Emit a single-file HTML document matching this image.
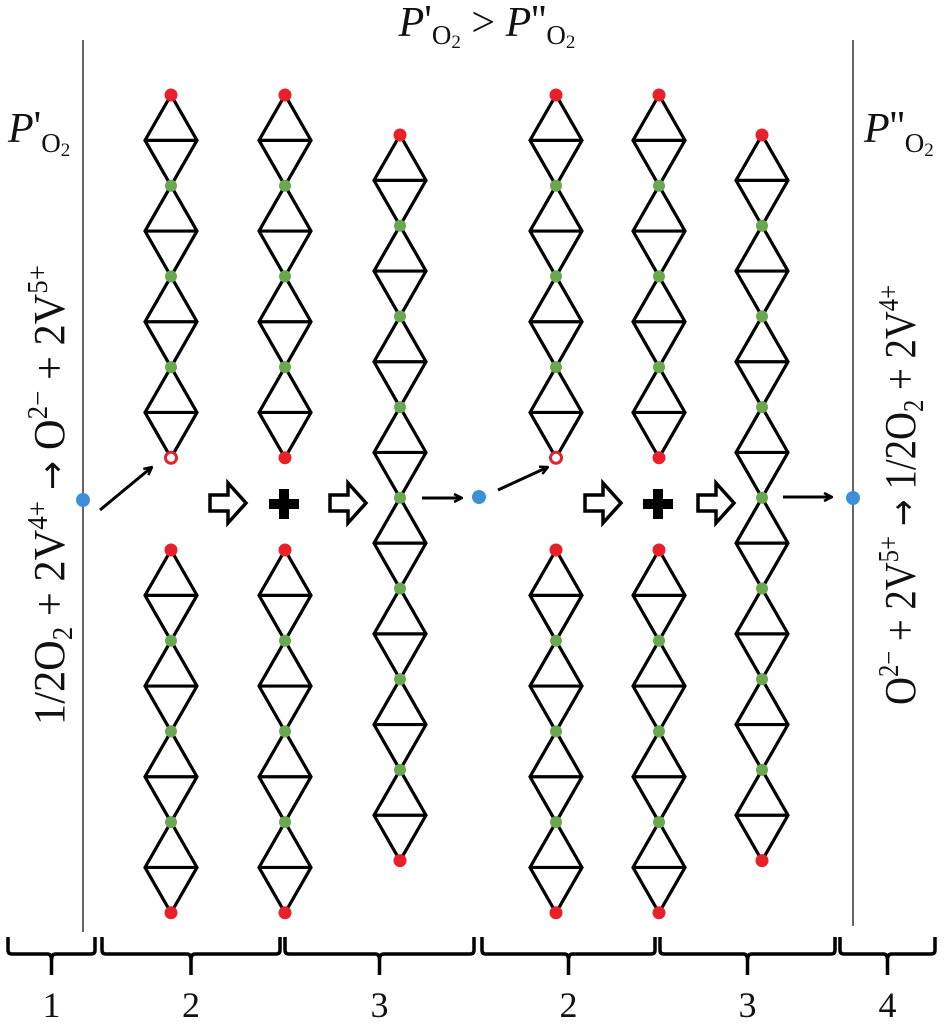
<!DOCTYPE html>
<html><head><meta charset="utf-8"><style>
html,body{margin:0;padding:0;background:#fff}
svg{display:block}
text{font-family:"Liberation Serif",serif;fill:#111}
</style></head><body>
<svg id="s" width="945" height="1030" viewBox="0 0 945 1030">
<g id="lines">
<line x1="83" y1="40" x2="83" y2="932" stroke="#333" stroke-width="1.5"/>
<line x1="853" y1="40" x2="853" y2="926" stroke="#333" stroke-width="1.5"/>
</g>
<text x="487" y="36" font-size="42" text-anchor="middle"><tspan font-style="italic">P</tspan><tspan dy="-2">'</tspan><tspan font-size="27" dy="10">O</tspan><tspan font-size="19" dy="4">2</tspan><tspan dy="-12"> &gt; </tspan><tspan font-style="italic">P</tspan><tspan dy="-2">''</tspan><tspan font-size="27" dy="10">O</tspan><tspan font-size="19" dy="4">2</tspan></text>
<text x="8" y="142" font-size="42"><tspan font-style="italic">P</tspan><tspan dy="-2">'</tspan><tspan font-size="27" dy="12">O</tspan><tspan font-size="19" dy="4">2</tspan></text>
<text x="864" y="142" font-size="42"><tspan font-style="italic">P</tspan><tspan dy="-2">''</tspan><tspan font-size="27" dy="12">O</tspan><tspan font-size="19" dy="4">2</tspan></text>
<text transform="translate(64,495) rotate(-90)" font-size="44" text-anchor="middle" textLength="460" lengthAdjust="spacingAndGlyphs">1/2O<tspan font-size="28" dy="8">2</tspan><tspan dy="-8"> + 2V</tspan><tspan font-size="28" dy="-17">4+</tspan><tspan dy="17" font-family="DejaVu Sans" font-size="36"> → </tspan><tspan>O</tspan><tspan font-size="28" dy="-17">2−</tspan><tspan dy="17"> + 2V</tspan><tspan font-size="28" dy="-17">5+</tspan></text>
<text transform="translate(915,495) rotate(-90)" font-size="44" text-anchor="middle" textLength="420" lengthAdjust="spacingAndGlyphs">O<tspan font-size="28" dy="-17">2−</tspan><tspan dy="17"> + 2V</tspan><tspan font-size="28" dy="-17">5+</tspan><tspan dy="17" font-family="DejaVu Sans" font-size="36"> → </tspan><tspan>1/2O</tspan><tspan font-size="28" dy="8">2</tspan><tspan dy="-8"> + 2V</tspan><tspan font-size="28" dy="-17">4+</tspan></text>
<g id="chains"></g>
<g id="flow"></g>
<g id="brackets"></g>
</svg>
<script>
const NS='http://www.w3.org/2000/svg';
const chainX=[171,285,400,556,659,762,171,285,556,659];
const chainTop=[95,95,135,95,95,135,550,550,550,550];
const chainCount=[4,4,8,4,4,8,4,4,4,4];
const chainOpenEnd=[true,false,false,true,false,false,false,false,false,false];
const bracketStart=[8,102,285,482,660,840];
const bracketEnd=[95,280,474,655,835,935];
const bracketLabels=['1','2','3','2','3','4'];
const P=90.7,HW=26;
function mk(tag,attrs,parent){const e=document.createElementNS(NS,tag);for(const k in attrs)e.setAttribute(k,attrs[k]);parent.appendChild(e);return e;}
const cg=document.getElementById('chains');
chainX.forEach((x,i)=>{
  const g=mk('g',{},cg);
  
  
  const t=chainTop[i],n=chainCount[i];
  for(let k=0;k<n;k++){
    const y0=t+k*P,ym=y0+P/2,y1=y0+P;
    const p=mk('path',{d:`M${x},${y0}L${x-HW},${ym}L${x},${y1}L${x+HW},${ym}Z M${x-HW},${ym}L${x+HW},${ym}`,fill:'none',stroke:'#000','stroke-width':3.2,'stroke-linejoin':'miter'},g);
    
    
  }
  for(let k=1;k<n;k++){
    const c=mk('circle',{cx:x,cy:t+k*P,r:6,fill:'#6aa84f'},g);
    
    
  }
  const a=mk('circle',{cx:x,cy:t,r:6.5,fill:'#e8202a'},g);
  
  
  const b=chainOpenEnd[i]?mk('circle',{cx:x,cy:t+n*P,r:5.5,fill:'#fff',stroke:'#e8202a','stroke-width':3},g):mk('circle',{cx:x,cy:t+n*P,r:6.5,fill:'#e8202a'},g);
  
  
});
const fg=document.getElementById('flow');
const defs=mk('defs',{},fg);
const m=mk('marker',{id:'ah',markerWidth:10,markerHeight:10,refX:9,refY:5,orient:'auto',markerUnits:'userSpaceOnUse'},defs);
mk('path',{d:'M1,1L9,5L1,9',fill:'none',stroke:'#000','stroke-width':2.5},m);
[[100,510,152,467],[422,498,462,498],[498,490,548,467],[783,497,832,497]].forEach(a=>{
  const l=mk('line',{x1:a[0],y1:a[1],x2:a[2],y2:a[3],stroke:'#000','stroke-width':3,'marker-end':'url(#ah)'},fg);
  
  
});
[[83,500],[479,497],[853,498]].forEach(p=>{
  const c=mk('circle',{cx:p[0],cy:p[1],r:7,fill:'#3d8fd8'},fg);
  
  
});
[210,330,585,698].forEach(x=>{
  const h=mk('path',{d:`M${x},${495}H${x+18}V${483}L${x+36},${503}L${x+18},${523}V${511}H${x}Z`,fill:'#fff',stroke:'#000','stroke-width':3.5,'stroke-linejoin':'miter'},fg);
  
  
});
[284,658].forEach(x=>{
  const p=mk('path',{d:`M${x-5},489h10v10h10v10h-10v10h-10v-10h-10v-10h10Z`,fill:'#000'},fg);
  
  
});
const bg=document.getElementById('brackets');
bracketStart.forEach((s,i)=>{
  const e=bracketEnd[i],c=(s+e)/2;
  const p=mk('path',{d:`M${s},937 V950 Q${s},954 ${s+4},954 H${c-4} Q${c},954 ${c},960 V975 M${c},960 Q${c},954 ${c+4},954 H${e-4} Q${e},954 ${e},950 V937`,fill:'none',stroke:'#000','stroke-width':3.5},bg);
  
  
  const t=mk('text',{x:c,y:1017,'font-size':36,'text-anchor':'middle'},bg);
  t.textContent=bracketLabels[i];
  
  
});
</script>
</body></html>
